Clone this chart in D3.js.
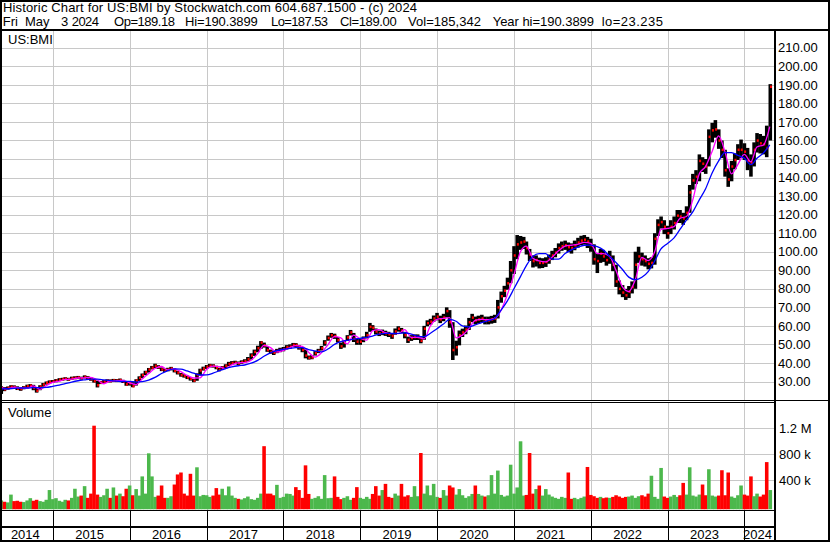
<!DOCTYPE html>
<html><head><meta charset="utf-8">
<script src="https://cdn.jsdelivr.net/npm/d3@7"></script>
<style>
html,body{margin:0;padding:0;background:#fff;}
svg{display:block;font-family:"Liberation Sans",Arial,sans-serif;}
</style>
</head><body>
<svg id="chart" width="830" height="543"></svg>
<script>
// ---------------- DATA ----------------
const symbol = "US:BMI";
const headerLine1 = "Historic Chart for US:BMI by Stockwatch.com 604.687.1500 - (c) 2024";
const headerLine2 = ["Fri", "May", "3", "2024", "Op=189.18", "Hi=190.3899", "Lo=187.53", "Cl=189.00", "Vol=185,342", "Year hi=190.3899", "lo=23.235"];
const yearLabels = ["2014","2015","2016","2017","2018","2019","2020","2021","2022","2023","2024"];
const priceTicks = [30,40,50,60,70,80,90,100,110,120,130,140,150,160,170,180,190,200,210];
const volumeTicks = [400000, 800000, 1200000];
const volumeTickLabels = ["400 k", "800 k", "1.2 M"];

// semi-monthly samples (1st and 16th of each month, May 2014 .. Apr 2024, then May 3 2024)
const close = [
  26.5,25.8,26.6,27.2,27.0,26.2,26.0,26.8,27.5,27.8,26.5,25.0,27.3,28.4,29.3,29.8,
  30.0,30.5,31.0,31.3,31.5,31.2,31.8,32.0,32.2,31.8,32.5,32.0,31.3,30.2,28.0,29.5,30.0,30.4,30.3,30.6,30.5,30.8,30.0,28.5,
  29.0,27.5,30.5,32.0,33.5,35.0,36.5,37.5,38.5,37.8,36.5,36.0,36.5,37.0,35.8,34.8,33.5,33.0,32.2,31.5,30.5,33.5,36.0,37.0,
  38.0,38.6,38.4,37.5,36.3,37.5,38.5,39.5,40.0,40.2,39.8,40.5,41.0,42.0,44.0,46.0,48.0,51.0,49.5,47.0,46.0,45.5,46.5,47.0,
  47.5,48.5,48.8,49.8,49.7,48.5,47.0,44.0,42.8,43.0,45.3,46.5,48.0,51.0,53.5,55.0,54.5,52.4,49.0,51.0,53.8,56.5,53.0,51.5,
  51.5,53.0,55.0,59.5,59.0,57.0,56.0,56.5,56.0,55.5,54.5,57.0,58.5,57.5,55.0,52.5,53.5,54.0,54.0,52.0,58.5,61.5,62.3,64.0,
  65.0,63.5,64.5,68.0,62.0,47.0,48.5,55.0,56.5,58.0,62.0,64.5,63.0,63.5,64.0,63.0,63.0,63.5,64.0,70.0,76.0,79.0,83.0,90.0,
  98.0,104.0,105.0,105.5,102.0,98.5,95.0,95.5,94.0,94.0,94.5,96.0,98.0,99.5,102.0,103.0,103.5,102.5,102.0,103.5,105.0,106.0,106.5,105.5,
  103.5,96.0,95.0,99.0,97.5,95.5,97.0,93.0,84.0,80.0,78.0,76.5,78.5,81.0,93.0,97.5,96.0,95.0,93.5,94.0,107.0,114.5,116.0,113.5,
  110.0,113.5,115.5,119.5,119.0,118.0,121.0,132.0,138.5,140.5,149.0,147.5,146.0,162.0,165.5,166.0,160.0,155.0,144.0,139.0,146.0,149.5,155.0,155.0,
  154.0,149.0,148.0,155.0,160.0,158.5,158.0,156.0,189.0
];
const high = [
  27.4,27.0,27.3,28.0,27.9,27.4,26.9,27.5,28.3,28.6,28.2,26.8,28.0,29.2,30.0,30.6,
  30.8,31.3,31.8,32.0,32.3,32.0,32.6,32.8,33.0,32.6,33.3,32.9,32.2,31.4,30.5,30.3,30.8,31.2,31.1,31.4,31.3,31.6,30.9,30.2,
  29.5,29.6,31.2,32.8,34.3,35.8,37.3,38.4,39.6,38.8,37.6,37.0,37.4,37.9,37.0,35.8,34.6,33.9,33.1,32.4,31.4,34.4,36.9,38.0,
  38.9,39.5,39.3,38.5,37.4,38.3,39.3,40.6,41.0,41.2,40.8,41.4,42.0,43.2,45.2,47.2,49.3,51.8,51.0,49.0,47.2,46.6,47.6,48.2,
  48.6,49.6,50.0,50.8,50.7,49.6,48.2,47.3,44.0,44.2,46.4,47.6,49.2,52.3,54.8,56.2,55.8,54.0,51.0,52.2,55.0,57.8,56.2,53.2,
  53.0,54.3,56.8,61.6,60.4,58.6,57.5,58.0,57.4,56.8,55.9,58.6,59.8,58.9,56.8,54.2,55.0,55.4,55.4,53.8,60.0,63.0,63.8,65.6,
  67.0,65.5,66.5,70.0,68.5,62.0,52.0,57.5,58.5,60.2,64.3,66.5,65.0,65.5,66.0,65.0,65.0,65.4,66.0,74.0,78.5,81.6,86.0,95.0,
  103.0,109.0,108.5,108.0,105.5,101.5,98.0,98.0,96.8,96.5,97.0,98.5,100.5,102.0,104.5,105.5,106.0,105.0,104.5,106.0,107.5,108.6,109.0,108.0,
  107.0,104.0,99.0,101.5,101.0,99.0,100.5,98.0,93.0,84.5,82.0,80.0,81.5,84.0,100.0,102.7,99.5,98.0,96.5,97.0,110.0,117.5,119.0,117.0,
  114.0,117.0,119.0,122.5,122.5,121.0,124.5,136.0,142.0,144.0,152.5,151.0,150.0,166.0,169.5,171.0,166.0,160.0,155.0,145.0,149.0,153.0,158.0,160.5,
  158.5,156.0,152.5,159.0,164.0,163.5,162.5,168.0,190.3899
];
const low = [
  23.3,24.8,25.6,26.3,26.2,25.4,25.0,25.8,26.6,27.0,25.3,24.0,25.3,27.2,28.3,28.9,
  29.2,29.6,30.2,30.5,30.7,30.4,30.9,31.2,31.3,31.0,31.6,31.2,30.4,29.4,26.8,28.6,29.2,29.6,29.5,29.8,29.7,29.9,29.2,27.7,
  27.8,26.9,27.8,30.3,31.8,33.4,34.8,36.5,37.3,36.8,35.6,35.2,35.5,36.0,34.9,33.8,32.6,32.1,31.3,30.5,29.6,30.4,33.3,35.9,
  36.8,37.6,37.5,36.6,35.5,36.2,37.3,38.3,39.0,39.3,38.9,39.5,40.1,40.8,41.8,43.8,45.8,47.6,48.3,46.0,45.0,44.3,45.3,45.8,
  46.3,47.3,47.7,48.6,48.5,47.2,45.8,42.5,41.8,42.0,44.0,45.3,46.7,49.3,52.0,53.6,53.0,51.0,47.6,48.3,52.0,54.8,51.3,49.8,
  49.8,51.2,53.2,56.8,57.4,55.4,54.5,55.0,54.6,54.0,53.0,55.2,56.9,56.0,53.3,50.8,51.9,52.4,52.4,50.6,52.5,59.8,60.6,62.2,
  63.0,61.5,62.5,64.5,59.0,41.6,44.0,49.5,54.0,55.5,57.8,62.0,60.8,61.2,61.8,60.8,60.8,61.2,61.6,64.0,72.5,75.5,79.5,83.0,
  88.0,96.0,101.0,101.5,98.5,95.0,91.5,92.0,91.0,91.2,91.8,93.5,95.5,97.0,99.0,100.5,101.0,99.8,99.0,100.8,102.2,103.5,103.8,102.0,
  100.0,93.0,88.5,94.0,94.5,92.5,93.5,89.5,81.0,77.0,75.5,74.0,75.0,77.5,80.0,94.0,92.5,92.0,90.5,91.0,93.0,108.5,112.5,109.5,
  107.0,109.5,112.0,115.5,115.5,114.5,117.0,121.0,133.5,136.5,138.0,143.0,142.0,146.0,159.0,161.5,155.5,150.5,140.5,135.0,138.0,144.5,149.5,150.5,
  149.5,144.0,140.5,146.0,153.5,153.0,152.5,151.0,160.0
];
// volume in thousands of shares, same semi-monthly samples
const volumeK = [
  90,70,60,180,80,85,70,65,90,125,85,100,80,70,100,250,
  110,125,85,70,100,90,130,270,150,165,310,130,195,1240,180,145,170,270,130,290,165,195,155,270,
  320,170,265,165,460,195,815,460,145,165,320,130,130,155,335,490,520,195,165,500,165,600,155,175,
  170,145,165,280,180,270,170,305,165,130,115,105,125,150,110,100,130,195,925,195,195,170,330,130,
  145,195,190,165,295,250,130,630,190,115,130,155,115,480,125,130,460,145,110,130,155,100,130,295,
  130,115,145,115,190,310,165,250,345,145,130,195,165,345,150,170,145,310,155,820,195,320,170,345,
  145,130,250,165,320,290,180,265,170,130,155,190,320,190,165,150,170,480,195,550,175,150,165,640,
  195,290,1000,165,175,820,195,265,320,165,265,180,150,130,115,145,130,520,115,130,110,130,150,605,
  175,155,130,145,125,135,130,145,170,150,130,145,150,165,130,155,170,150,195,470,145,115,590,150,
  130,150,175,145,170,360,180,600,165,150,180,335,170,570,165,150,165,555,170,520,150,130,170,320,
  180,165,460,155,195,150,180,680,250
];
// moving averages, monthly (May 2014 .. May 2024)
const maFast = [
  26.5,26.2,26.9,26.6,26.4,27.6,25.8,27.8,
  29.5,30.2,31.1,31.3,31.9,32.0,32.2,30.8,28.8,30.2,30.4,30.6,
  29.3,28.3,31.3,34.3,37.0,38.1,36.3,36.8,35.3,33.3,31.9,32.0,
  36.5,38.3,38.0,36.9,39.0,40.1,40.2,41.5,45.0,49.5,48.3,45.8,
  46.8,48.3,49.4,49.0,45.8,43.2,45.5,49.8,54.2,53.5,50.3,55.0,
  53.2,52.3,57.3,58.0,56.3,55.8,55.8,58.0,53.8,53.8,53.0,60.0,
  63.5,64.0,64.5,53.5,55.0,58.5,63.0,63.5,63.3,64.0,68.5,77.0,
  87.5,100.0,103.0,96.5,95.0,94.5,97.0,100.5,103.0,103.5,104.0,105.0,
  104.5,99.0,99.0,97.5,90.0,81.0,78.5,85.0,97.0,95.2,100.0,112.0,
  112.6,113.5,118.0,119.0,128.0,142.0,146.0,154.0,162.5,154.0,142.0,147.0,
  152.5,148.5,156.5,157.6,167.5
];
const maSlow = [
  26.0,26.1,26.3,26.5,26.5,26.7,26.7,26.8,
  27.4,28.0,28.8,29.7,30.4,30.9,31.3,31.3,30.9,30.5,30.2,30.0,
  30.1,29.7,29.9,30.8,32.2,34.3,35.9,36.8,36.7,35.7,34.5,33.5,
  33.6,34.5,35.7,37.0,37.9,38.5,38.9,39.9,41.4,43.6,45.4,46.6,
  47.4,47.9,48.3,48.3,47.2,46.5,46.0,47.5,50.0,51.5,52.2,52.8,
  53.3,53.8,54.5,55.5,56.0,56.0,56.0,56.3,55.5,54.5,54.2,56.0,
  58.5,61.0,63.5,62.5,60.0,59.5,60.5,61.8,62.8,64.0,68.5,73.5,
  80.0,86.6,92.5,97.5,99.0,99.0,96.0,96.0,99.0,101.0,102.5,103.5,
  103.6,102.7,101.0,97.5,94.2,90.4,86.3,84.9,86.2,89.3,95.0,101.5,
  104.5,107.5,112.0,117.0,121.5,128.0,134.0,142.5,149.0,153.5,153.5,152.0,
  150.5,147.0,150.4,153.3,157.6
];

// ---------------- DATES ----------------
const sampleDates = [];
d3.timeMonth.range(new Date(2014,4,1), new Date(2024,4,1)).forEach(m => {
  sampleDates.push(m, new Date(m.getFullYear(), m.getMonth(), 16));
});
sampleDates.push(new Date(2024,4,3));
const maDates = d3.timeMonth.range(new Date(2014,4,1), new Date(2024,5,1));

// ---------------- LAYOUT ----------------
const svg = d3.select("#chart");
const W = 830, H = 543;
const plotL = 1, plotR = 773.5, axisX = 774.5;
const priceTop = 31, priceBot = 400;
const volTop = 402.5, volBot = 509.5;
const FONT = 13;
const GRID = "#c8c8c8";

const x = d3.scaleTime().domain([new Date(2014,4,3), new Date(2024,4,3)]).range([1.6, 770.2]);
const y = d3.scaleLinear().domain([30, 210]).range([381.5, 47.8]);
const yv = d3.scaleLinear().domain([0, 1200000]).range([506.3, 428.3]);

svg.append("rect").attr("width", W).attr("height", H).attr("fill", "#fff");

const defs = svg.append("defs");
defs.append("clipPath").attr("id", "pclip").append("rect")
  .attr("x", plotL).attr("y", priceTop).attr("width", plotR - plotL).attr("height", priceBot - priceTop - 0.5);
defs.append("clipPath").attr("id", "vclip").append("rect")
  .attr("x", plotL).attr("y", volTop).attr("width", plotR - plotL).attr("height", volBot - volTop);

// ---------------- HEADER ----------------
svg.append("text").attr("x", 3).attr("y", 11.5).attr("font-size", FONT)
  .attr("textLength", 414).attr("lengthAdjust", "spacing").attr("fill", "#000").text(headerLine1);
const h2x = [2.7, 25, 61, 71.7, 114, 185, 271, 340, 408, 492.7, 601.7];
const h2w = [0, 0, 0, 27.3, 61, 72.7, 57, 56.7, 73, 101.3, 61.3];
svg.append("g").selectAll("text").data(headerLine2).join("text")
  .attr("x", (d, i) => h2x[i]).attr("y", 25.5).attr("font-size", FONT).attr("fill", "#000")
  .each(function(d, i) { if (h2w[i]) d3.select(this).attr("textLength", h2w[i]).attr("lengthAdjust", "spacing"); })
  .text(d => d);

// ---------------- GRID ----------------
const years = d3.timeYear.range(new Date(2015,0,1), new Date(2025,0,1));
const grid = svg.append("g").attr("stroke", GRID).attr("stroke-width", 1).attr("shape-rendering", "crispEdges");
grid.selectAll(".hp").data(priceTicks).join("line")
  .attr("x1", plotL).attr("x2", plotR).attr("y1", d => Math.round(y(d)) + 0.5).attr("y2", d => Math.round(y(d)) + 0.5);
grid.selectAll(".vp").data(years).join("line")
  .attr("x1", d => Math.round(x(d)) + 0.5).attr("x2", d => Math.round(x(d)) + 0.5)
  .attr("y1", priceTop).attr("y2", priceBot);
grid.selectAll(".hv").data(volumeTicks).join("line")
  .attr("x1", plotL).attr("x2", plotR).attr("y1", d => Math.round(yv(d)) + 0.5).attr("y2", d => Math.round(yv(d)) + 0.5);
grid.selectAll(".vv").data(years).join("line")
  .attr("x1", d => Math.round(x(d)) + 0.5).attr("x2", d => Math.round(x(d)) + 0.5)
  .attr("y1", volTop).attr("y2", volBot);

// ---------------- PRICE BARS ----------------
const pts = sampleDates.map((d, i) => ({ date: d, c: close[i], h: high[i], l: low[i], v: volumeK[i] * 1000, i }));
const step = x(new Date(2014,5,1)) - x(new Date(2014,4,16));
const pg = svg.append("g").attr("clip-path", "url(#pclip)");
pg.selectAll(".bar").data(pts).join("rect")
  .attr("x", d => x(d.date) - step / 2).attr("width", step + 0.2)
  .attr("y", d => y(d.h)).attr("height", d => Math.max(1, y(d.l) - y(d.h)))
  .attr("fill", "#000");
pg.selectAll(".tick").data(pts).join("rect")
  .attr("x", d => x(d.date) - 0.2).attr("width", 2)
  .attr("y", d => y(d.c) - 1.2).attr("height", 2.5)
  .attr("fill", "#ff0000");

const fastPts = maDates.map((d, i) => ({ date: d, v: maFast[i] }));
const slowPts = maDates.map((d, i) => ({ date: d, v: maSlow[i] }));
const line = d3.line().x(d => x(d.date)).y(d => y(d.v)).curve(d3.curveMonotoneX);
pg.append("path").datum(fastPts).attr("d", line).attr("fill", "none").attr("stroke", "#ff00ff").attr("stroke-width", 1.3);
pg.append("path").datum(slowPts).attr("d", line).attr("fill", "none").attr("stroke", "#0000ff").attr("stroke-width", 1.3);

// ---------------- VOLUME ----------------
const vg = svg.append("g").attr("clip-path", "url(#vclip)");
vg.selectAll("rect").data(pts).join("rect")
  .attr("x", d => x(d.date) - step / 2).attr("width", step + 0.2)
  .attr("y", d => yv(d.v)).attr("height", d => volBot - yv(d.v))
  .attr("fill", d => (d.i === 0 || d.c >= close[d.i - 1]) ? "#4cb84c" : "#ff0000");

// ---------------- LABELS ----------------
svg.append("text").attr("x", 8).attr("y", 44).attr("font-size", FONT).attr("fill", "#000").text(symbol);
svg.append("text").attr("x", 8).attr("y", 417).attr("font-size", FONT).attr("fill", "#000").text("Volume");

svg.append("g").selectAll("text").data(priceTicks).join("text")
  .attr("x", 778).attr("y", d => y(d)).attr("dy", "0.36em")
  .attr("font-size", FONT).attr("fill", "#000").text(d => d3.format(".2f")(d));
svg.append("g").selectAll("text").data(volumeTicks).join("text")
  .attr("x", 779).attr("y", d => yv(d)).attr("dy", "0.36em")
  .attr("font-size", FONT).attr("fill", "#000").text((d, i) => volumeTickLabels[i]);

// year labels
const yearBounds = [x.range()[0] - 0.6].concat(years.map(d => x(d))).concat([plotR]);
svg.append("g").selectAll("text").data(yearLabels).join("text")
  .attr("x", (d, i) => (Math.max(plotL, yearBounds[i]) + Math.min(plotR, yearBounds[i + 1])) / 2 - 1.5)
  .attr("y", 539).attr("text-anchor", "middle")
  .attr("font-size", FONT).attr("fill", "#000").text(d => d);

// ---------------- FRAME ----------------
const fr = svg.append("g").attr("stroke", "#000").attr("fill", "none").attr("shape-rendering", "crispEdges");
fr.append("rect").attr("x", 1).attr("y", 1).attr("width", 828).attr("height", 540).attr("stroke-width", 2);
fr.append("line").attr("x1", 0).attr("x2", W).attr("y1", 30).attr("y2", 30).attr("stroke-width", 2);
fr.append("line").attr("x1", axisX).attr("x2", axisX).attr("y1", 30).attr("y2", 541).attr("stroke-width", 2);
fr.append("line").attr("x1", 0).attr("x2", axisX).attr("y1", 400.5).attr("y2", 400.5).attr("stroke-width", 1);
fr.append("line").attr("x1", 0).attr("x2", axisX).attr("y1", 402.5).attr("y2", 402.5).attr("stroke-width", 1);
fr.append("line").attr("x1", axisX).attr("x2", W).attr("y1", 400.5).attr("y2", 400.5).attr("stroke-width", 1);
fr.append("line").attr("x1", 0).attr("x2", axisX).attr("y1", 510).attr("y2", 510).attr("stroke-width", 1);
fr.append("line").attr("x1", 0).attr("x2", axisX).attr("y1", 527).attr("y2", 527).attr("stroke-width", 2);
fr.selectAll(".yd").data(years).join("line")
  .attr("x1", d => Math.round(x(d)) + 0.5).attr("x2", d => Math.round(x(d)) + 0.5)
  .attr("y1", 510).attr("y2", 541).attr("stroke-width", 1);
</script>
</body></html>
